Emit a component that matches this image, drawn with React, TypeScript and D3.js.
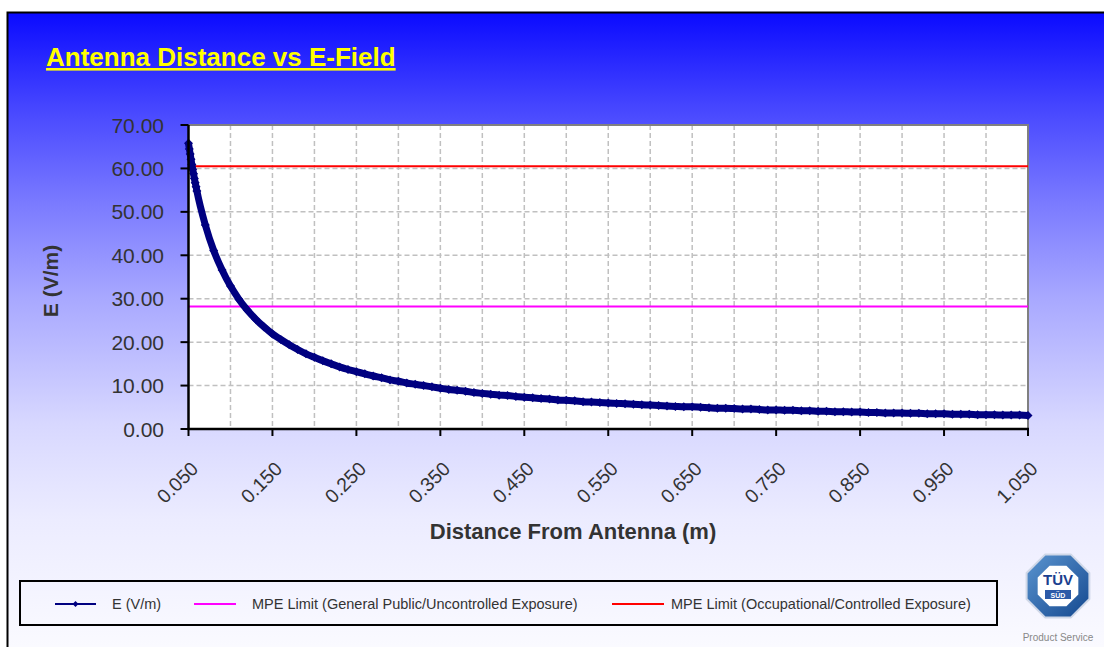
import React, { useEffect, useRef } from 'react';
import * as d3 from 'd3';

// distance from antenna (m)
const distances = [
  0.050, 0.051, 0.052, 0.053, 0.054, 0.055, 0.056, 0.057, 0.058, 0.059,
  0.06, 0.07, 0.08, 0.09, 0.10, 0.11, 0.12, 0.13, 0.14, 0.15,
  0.16, 0.17, 0.18, 0.19, 0.20, 0.21, 0.22, 0.23, 0.24, 0.25,
  0.26, 0.27, 0.28, 0.29, 0.30, 0.31, 0.32, 0.33, 0.34, 0.35,
  0.36, 0.37, 0.38, 0.39, 0.40, 0.41, 0.42, 0.43, 0.44, 0.45,
  0.46, 0.47, 0.48, 0.49, 0.50, 0.51, 0.52, 0.53, 0.54, 0.55,
  0.56, 0.57, 0.58, 0.59, 0.60, 0.61, 0.62, 0.63, 0.64, 0.65,
  0.66, 0.67, 0.68, 0.69, 0.70, 0.71, 0.72, 0.73, 0.74, 0.75,
  0.76, 0.77, 0.78, 0.79, 0.80, 0.81, 0.82, 0.83, 0.84, 0.85,
  0.86, 0.87, 0.88, 0.89, 0.90, 0.91, 0.92, 0.93, 0.94, 0.95,
  0.96, 0.97, 0.98, 0.99, 1.00, 1.01, 1.02, 1.03, 1.04, 1.05,
];

// E-field (V/m)
const eField = [
  65.8, 64.5, 63.3, 62.1, 60.9, 59.8, 58.8, 57.7, 56.7, 55.8,
  54.8, 47.0, 41.1, 36.6, 32.9, 29.9, 27.4, 25.3, 23.5, 21.9,
  20.6, 19.4, 18.3, 17.3, 16.5, 15.7, 15.0, 14.3, 13.7, 13.2,
  12.7, 12.2, 11.8, 11.3, 11.0, 10.6, 10.3, 10.0, 9.7, 9.4,
  9.1, 8.9, 8.7, 8.4, 8.2, 8.0, 7.8, 7.7, 7.5, 7.3,
  7.2, 7.0, 6.9, 6.7, 6.6, 6.5, 6.3, 6.2, 6.1, 6.0,
  5.9, 5.8, 5.7, 5.6, 5.5, 5.4, 5.3, 5.2, 5.1, 5.1,
  5.0, 4.9, 4.8, 4.8, 4.7, 4.6, 4.6, 4.5, 4.4, 4.4,
  4.3, 4.3, 4.2, 4.2, 4.1, 4.1, 4.0, 4.0, 3.9, 3.9,
  3.8, 3.8, 3.7, 3.7, 3.7, 3.6, 3.6, 3.5, 3.5, 3.5,
  3.4, 3.4, 3.4, 3.3, 3.3, 3.3, 3.2, 3.2, 3.2, 3.1,
];

const mpeGeneralPublic = 28.2;
const mpeOccupational = 60.5;

const xTickValues = [0.05, 0.15, 0.25, 0.35, 0.45, 0.55, 0.65, 0.75, 0.85, 0.95, 1.05];
const xTickLabels = ['0.050', '0.150', '0.250', '0.350', '0.450', '0.550', '0.650', '0.750', '0.850', '0.950', '1.050'];
const xGridValues = [0.10, 0.15, 0.20, 0.25, 0.30, 0.35, 0.40, 0.45, 0.50, 0.55, 0.60, 0.65, 0.70, 0.75, 0.80, 0.85, 0.90, 0.95, 1.00];
const yTickValues = [0, 10, 20, 30, 40, 50, 60, 70];

const legendLabels = ['E (V/m)', 'MPE Limit (General Public/Uncontrolled Exposure)', 'MPE Limit (Occupational/Controlled Exposure)'];
const seriesColors = ['#000080', '#ff00ff', '#ff0000'];

const W = 1104;
const H = 647;
const FONT = '"Liberation Sans", Arial, sans-serif';

const App: React.FC = () => {
  const svgRef = useRef<SVGSVGElement>(null);

  useEffect(() => {
    if (!svgRef.current) return;
    const svg = d3.select(svgRef.current);
    svg.selectAll('*').remove();

    const plot = { left: 188.5, right: 1028, top: 125, bottom: 429 };

    const x = d3.scaleLinear().domain([0.05, 1.05]).range([plot.left, plot.right]);
    const y = d3.scaleLinear().domain([0, 70]).range([plot.bottom, plot.top]);

    // background gradient
    const defs = svg.append('defs');
    const grad = defs.append('linearGradient')
      .attr('id', 'bg')
      .attr('gradientUnits', 'userSpaceOnUse')
      .attr('x1', 0).attr('y1', 12).attr('x2', 0).attr('y2', 647);
    [
      [0, '#0a0aff'], [0.15, '#4646ff'], [0.3, '#7a7aff'], [0.45, '#a8a8ff'],
      [0.65, '#d8d8ff'], [0.8, '#ececff'], [1, '#fafaff'],
    ].forEach(([o, c]) => grad.append('stop').attr('offset', o as number).attr('stop-color', c as string));

    const ringGrad = defs.append('linearGradient')
      .attr('id', 'ring').attr('x1', 0).attr('y1', 0).attr('x2', 1).attr('y2', 1);
    ringGrad.append('stop').attr('offset', 0).attr('stop-color', '#5b95d0');
    ringGrad.append('stop').attr('offset', 1).attr('stop-color', '#14488f');

    svg.append('rect')
      .attr('x', 7.5).attr('y', 12.5).attr('width', W).attr('height', H)
      .attr('fill', 'url(#bg)')
      .attr('stroke', '#000').attr('stroke-width', 2);

    // title
    svg.append('text')
      .attr('x', 46).attr('y', 66)
      .attr('font-family', FONT).attr('font-size', 26).attr('font-weight', 'bold')
      .attr('fill', '#ffff00')
      .style('text-decoration', 'underline')
      .text('Antenna Distance vs E-Field');

    // plot area
    svg.append('rect')
      .attr('x', plot.left).attr('y', plot.top)
      .attr('width', plot.right - plot.left).attr('height', plot.bottom - plot.top)
      .attr('fill', '#fff');

    const g = svg.append('g');

    // gridlines
    g.selectAll('.vgrid')
      .data(xGridValues)
      .enter().append('line')
      .attr('x1', d => x(d)).attr('x2', d => x(d))
      .attr('y1', plot.top).attr('y2', plot.bottom)
      .attr('stroke', '#c0c0c0').attr('stroke-width', 1.5).attr('stroke-dasharray', '5,3');

    g.selectAll('.hgrid')
      .data(yTickValues.slice(1, -1))
      .enter().append('line')
      .attr('x1', plot.left).attr('x2', plot.right)
      .attr('y1', d => y(d)).attr('y2', d => y(d))
      .attr('stroke', '#c0c0c0').attr('stroke-width', 1.5).attr('stroke-dasharray', '5,3');

    // top / right border
    g.append('path')
      .attr('d', `M${plot.left},${plot.top}H${plot.right}V${plot.bottom}`)
      .attr('fill', 'none').attr('stroke', '#808080').attr('stroke-width', 2);

    // limit lines
    g.append('line')
      .attr('x1', plot.left).attr('x2', plot.right)
      .attr('y1', y(mpeGeneralPublic)).attr('y2', y(mpeGeneralPublic))
      .attr('stroke', seriesColors[1]).attr('stroke-width', 2);
    g.append('line')
      .attr('x1', plot.left).attr('x2', plot.right)
      .attr('y1', y(mpeOccupational)).attr('y2', y(mpeOccupational))
      .attr('stroke', seriesColors[2]).attr('stroke-width', 2);

    // E-field curve
    const pts = distances.map((d, i) => [d, eField[i]] as [number, number]);
    const line = d3.line<[number, number]>()
      .x(d => x(d[0]))
      .y(d => y(d[1]))
      .curve(d3.curveMonotoneX);

    g.append('path')
      .datum(pts)
      .attr('fill', 'none')
      .attr('stroke', seriesColors[0])
      .attr('stroke-width', 7)
      .attr('stroke-linejoin', 'round')
      .attr('d', line);

    const diamond = 'M0,-4.5L4.5,0L0,4.5L-4.5,0Z';
    g.selectAll('.dot')
      .data(pts)
      .enter().append('path')
      .attr('d', diamond)
      .attr('transform', d => `translate(${x(d[0])},${y(d[1])})`)
      .attr('fill', seriesColors[0]);

    // axes lines
    g.append('line')
      .attr('x1', plot.left).attr('x2', plot.left)
      .attr('y1', plot.top).attr('y2', plot.bottom + 1)
      .attr('stroke', '#000').attr('stroke-width', 2.5);
    g.append('line')
      .attr('x1', plot.left - 1).attr('x2', plot.right + 1)
      .attr('y1', plot.bottom).attr('y2', plot.bottom)
      .attr('stroke', '#000').attr('stroke-width', 2.5);

    // y ticks
    g.selectAll('.ytick')
      .data(yTickValues)
      .enter().append('line')
      .attr('x1', plot.left - 8).attr('x2', plot.left)
      .attr('y1', d => y(d)).attr('y2', d => y(d))
      .attr('stroke', '#000').attr('stroke-width', 2);

    g.selectAll('.ylabel')
      .data(yTickValues)
      .enter().append('text')
      .attr('x', 164).attr('y', d => y(d) + 7.5)
      .attr('text-anchor', 'end')
      .attr('font-family', FONT).attr('font-size', 21)
      .attr('fill', '#333')
      .text(d => d3.format('.2f')(d));

    // x ticks
    g.selectAll('.xtick')
      .data(xTickValues)
      .enter().append('line')
      .attr('x1', d => x(d)).attr('x2', d => x(d))
      .attr('y1', plot.bottom).attr('y2', plot.bottom + 7)
      .attr('stroke', '#000').attr('stroke-width', 2);

    g.selectAll('.xlabel')
      .data(xTickValues)
      .enter().append('text')
      .attr('transform', d => `translate(${x(d) + 11},${plot.bottom + 41}) rotate(-45)`)
      .attr('text-anchor', 'end')
      .attr('font-family', FONT).attr('font-size', 19.5)
      .attr('fill', '#333')
      .text((d, i) => xTickLabels[i]);

    // axis titles
    svg.append('text')
      .attr('transform', `translate(58, 281) rotate(-90)`)
      .attr('text-anchor', 'middle')
      .attr('font-family', FONT).attr('font-size', 21).attr('font-weight', 'bold')
      .attr('fill', '#333')
      .text('E (V/m)');

    svg.append('text')
      .attr('x', 573).attr('y', 539)
      .attr('text-anchor', 'middle')
      .attr('font-family', FONT).attr('font-size', 22).attr('font-weight', 'bold')
      .attr('fill', '#333')
      .text('Distance From Antenna (m)');

    // legend
    svg.append('rect')
      .attr('x', 20).attr('y', 581).attr('width', 977).attr('height', 44)
      .attr('fill', 'none').attr('stroke', '#000').attr('stroke-width', 2);

    const legendItems = [
      { x0: 55, x1: 96, tx: 112 },
      { x0: 194, x1: 236, tx: 252 },
      { x0: 612, x1: 664, tx: 671 },
    ];
    legendItems.forEach((it, i) => {
      svg.append('line')
        .attr('x1', it.x0).attr('x2', it.x1).attr('y1', 604).attr('y2', 604)
        .attr('stroke', seriesColors[i]).attr('stroke-width', 2);
      if (i === 0) {
        svg.append('path')
          .attr('d', 'M0,-3L3,0L0,3L-3,0Z')
          .attr('transform', `translate(${(it.x0 + it.x1) / 2},604)`)
          .attr('fill', seriesColors[0]);
      }
      svg.append('text')
        .attr('x', it.tx).attr('y', 609)
        .attr('font-family', FONT).attr('font-size', 14.5)
        .attr('fill', '#333')
        .text(legendLabels[i]);
    });

    // certification mark
    const logo = svg.append('g').attr('transform', 'translate(1058,586)');
    const octagon = (r: number) => {
      const a = d3.range(8).map(k => {
        const ang = Math.PI / 8 + (k * Math.PI) / 4;
        return [r * Math.cos(ang), r * Math.sin(ang)];
      });
      return 'M' + a.map(p => p.join(',')).join('L') + 'Z';
    };
    logo.append('path').attr('d', octagon(34)).attr('fill', 'url(#ring)')
      .attr('stroke', '#d0d8e8').attr('stroke-width', 2).attr('stroke-linejoin', 'round');
    logo.append('path').attr('d', octagon(22)).attr('fill', '#fff');
    logo.append('text')
      .attr('x', 0).attr('y', -1)
      .attr('text-anchor', 'middle')
      .attr('font-family', FONT).attr('font-size', 15).attr('font-weight', 'bold')
      .attr('fill', '#1b3f8f')
      .text('TÜV');
    logo.append('rect').attr('x', -13).attr('y', 4).attr('width', 26).attr('height', 9).attr('fill', '#2b5aa8');
    logo.append('text')
      .attr('x', 0).attr('y', 11.5)
      .attr('text-anchor', 'middle')
      .attr('font-family', FONT).attr('font-size', 7).attr('font-weight', 'bold')
      .attr('fill', '#fff')
      .text('SÜD');
    svg.append('text')
      .attr('x', 1058).attr('y', 641)
      .attr('text-anchor', 'middle')
      .attr('font-family', FONT).attr('font-size', 10)
      .attr('fill', '#888')
      .text('Product Service');
  }, []);

  return (
    <svg
      ref={svgRef}
      width={W}
      height={H}
      style={{ position: 'absolute', left: 0, top: 0, display: 'block', background: '#fff' }}
    />
  );
};

export default App;
